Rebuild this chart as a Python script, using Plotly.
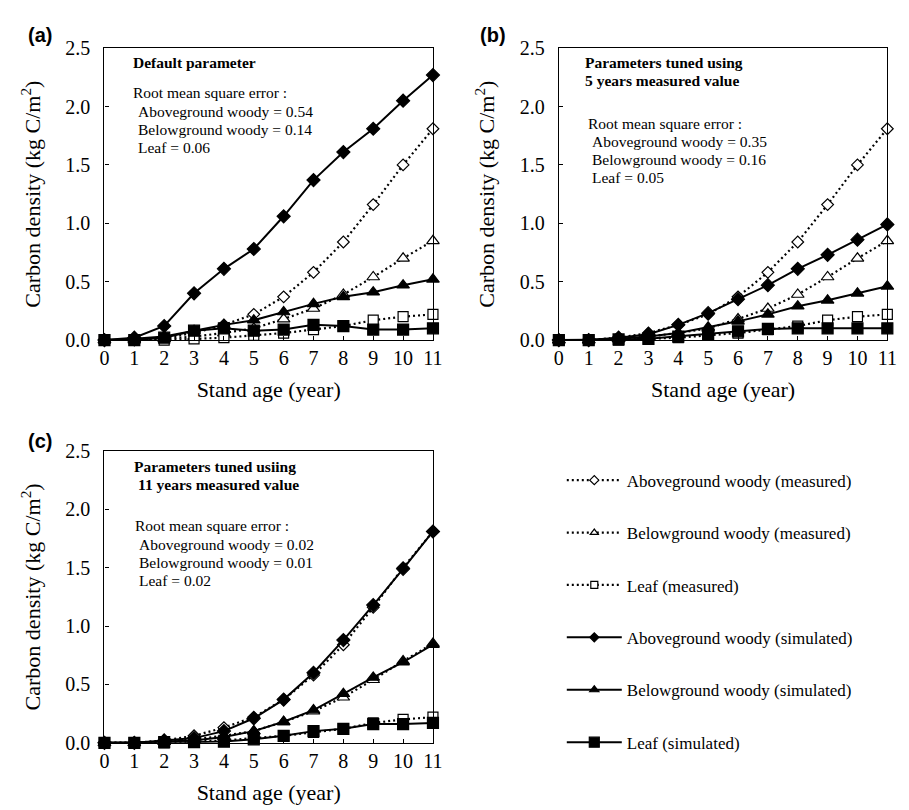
import plotly.graph_objects as go

# ---------------- data ----------------
ages = list(range(12))
tick_labels_x = [str(a) for a in ages]
tick_vals_y = [0.0, 0.5, 1.0, 1.5, 2.0, 2.5]

meas_agw = [0.0, 0.0, 0.02, 0.06, 0.13, 0.22, 0.37, 0.58, 0.84, 1.16, 1.50, 1.81]
meas_bgw = [0.0, 0.0, 0.01, 0.03, 0.06, 0.10, 0.18, 0.27, 0.39, 0.54, 0.70, 0.85]
meas_leaf = [0.0, 0.0, 0.0, 0.01, 0.02, 0.04, 0.06, 0.09, 0.12, 0.17, 0.20, 0.22]

sim_a_agw = [0.0, 0.02, 0.12, 0.40, 0.61, 0.78, 1.06, 1.37, 1.61, 1.81, 2.05, 2.27]
sim_a_bgw = [0.0, 0.01, 0.03, 0.08, 0.13, 0.17, 0.24, 0.31, 0.37, 0.41, 0.47, 0.52]
sim_a_leaf = [0.0, 0.0, 0.02, 0.08, 0.10, 0.08, 0.09, 0.13, 0.12, 0.09, 0.09, 0.10]

sim_b_agw = [0.0, 0.0, 0.02, 0.05, 0.13, 0.23, 0.35, 0.47, 0.61, 0.73, 0.86, 0.99]
sim_b_bgw = [0.0, 0.0, 0.01, 0.03, 0.06, 0.11, 0.16, 0.22, 0.29, 0.34, 0.40, 0.46]
sim_b_leaf = [0.0, 0.0, 0.005, 0.01, 0.03, 0.05, 0.075, 0.095, 0.10, 0.10, 0.10, 0.10]

sim_c_agw = [0.0, 0.0, 0.02, 0.04, 0.10, 0.21, 0.37, 0.60, 0.88, 1.18, 1.49, 1.81]
sim_c_bgw = [0.0, 0.0, 0.01, 0.02, 0.05, 0.10, 0.18, 0.28, 0.42, 0.56, 0.69, 0.84]
sim_c_leaf = [0.0, 0.0, 0.005, 0.005, 0.01, 0.03, 0.06, 0.10, 0.12, 0.16, 0.16, 0.17]

series_names = ["Aboveground woody (measured)", "Belowground woody (measured)", "Leaf (measured)",
                "Aboveground woody (simulated)", "Belowground woody (simulated)", "Leaf (simulated)"]

panel_headings = {
    "a": ["Default parameter"],
    "b": ["Parameters tuned using", "5 years measured value"],
    "c": ["Parameters tuned usiing", "11 years measured value"],
}
rmse_values = {
    "a": ["0.54", "0.14", "0.06"],
    "b": ["0.35", "0.16", "0.05"],
    "c": ["0.02", "0.01", "0.02"],
}
rmse_labels = ["Aboveground woody", "Belowground woody", "Leaf"]

W, H = 909, 810
SERIF = "Liberation Serif"
SANS = "Liberation Sans"

def px(x):
    return x / W

def py(y):
    return 1 - y / H

areas = {
    "a": (93, 427, 30, 330),
    "b": (555, 889, 30, 330),
    "c": (93, 427, 444, 744),
}
axis_ids = {"a": ("x", "y"), "b": ("x2", "y2"), "c": ("x3", "y3")}

styles = [
    dict(symbol="diamond", size=9, color="white", dash="2px,3px", filled=False),
    dict(symbol="triangle-up", size=11, color="white", dash="2px,3px", filled=False),
    dict(symbol="square", size=10, color="white", dash="2px,3px", filled=False),
    dict(symbol="diamond", size=10, color="black", dash="solid", filled=True),
    dict(symbol="triangle-up", size=11, color="black", dash="solid", filled=True),
    dict(symbol="square", size=11, color="black", dash="solid", filled=True),
]

panel_data = {
    "a": [meas_agw, meas_bgw, meas_leaf, sim_a_agw, sim_a_bgw, sim_a_leaf],
    "b": [meas_agw, meas_bgw, meas_leaf, sim_b_agw, sim_b_bgw, sim_b_leaf],
    "c": [meas_agw, meas_bgw, meas_leaf, sim_c_agw, sim_c_bgw, sim_c_leaf],
}

fig = go.Figure()

for p in ["a", "b", "c"]:
    xa, ya = axis_ids[p]
    for vals, st, name in zip(panel_data[p], styles, series_names):
        fig.add_trace(go.Scatter(
            x=ages, y=vals, mode="lines+markers", name=name,
            xaxis=xa, yaxis=ya, showlegend=False, cliponaxis=False,
            line=dict(color="black", width=2 if st["filled"] else 2.2, dash=st["dash"]),
            marker=dict(symbol=st["symbol"], size=st["size"], color=st["color"],
                        line=dict(color="black", width=1.2)),
        ))

legend_sizes = [7, 7, 7, 7, 8, 10]
for i, (st, name) in enumerate(zip(styles, series_names)):
    fig.add_trace(go.Scatter(
        x=[None], y=[None], mode="lines+markers", name=name, xaxis="x", yaxis="y",
        legendgroup=f"g{i}", showlegend=True,
        line=dict(color="black", width=2 if st["filled"] else 2.2,
                  dash="2px,3px" if not st["filled"] else "solid"),
        marker=dict(symbol=st["symbol"], size=legend_sizes[i], color=st["color"],
                    line=dict(color="black", width=1.2)),
    ))

axis_common = dict(
    showline=True, linecolor="black", linewidth=1.3, mirror=True,
    ticks="inside", ticklen=4, tickcolor="black", showgrid=False, zeroline=False,
    tickfont=dict(family=SERIF, size=20, color="black"),
)

layout = dict(
    width=W, height=H, margin=dict(l=0, r=0, t=0, b=0),
    paper_bgcolor="white", plot_bgcolor="white",
    font=dict(family=SERIF, color="black"),
    showlegend=True,
    legend=dict(
        x=px(558), y=py(456), xanchor="left", yanchor="top",
        font=dict(family=SERIF, size=17, color="black"),
        itemwidth=55, tracegroupgap=27.3, bgcolor="rgba(0,0,0,0)",
        itemclick=False, itemdoubleclick=False,
    ),
)

for p in ["a", "b", "c"]:
    l, r, t, b = areas[p]
    xa, ya = axis_ids[p]
    xkey = "xaxis" if xa == "x" else "xaxis" + xa[1:]
    ykey = "yaxis" if ya == "y" else "yaxis" + ya[1:]
    layout[xkey] = dict(
        axis_common, domain=[px(l), px(r)], anchor=ya, range=[0, 11],
        tickvals=ages, ticktext=tick_labels_x,
        title=dict(text="Stand age (year)", font=dict(family=SERIF, size=22, color="black"), standoff=13),
    )
    layout[ykey] = dict(
        axis_common, domain=[py(b), py(t)], anchor=xa, range=[0, 2.5],
        tickvals=tick_vals_y, tickformat=".1f", ticklabelstandoff=9,
        title=dict(text="Carbon density (kg C/m<sup>2</sup>)", font=dict(family=SERIF, size=22, color="black"), standoff=18),
    )

fig.update_layout(**layout)

annotations = []
for lab, (x, y) in {"(a)": (13, 16), "(b)": (473, 16), "(c)": (13, 434)}.items():
    annotations.append(dict(text=f"<b>{lab}</b>", x=px(x), y=py(y), xref="paper", yref="paper",
                            xanchor="left", yanchor="middle", showarrow=False,
                            font=dict(family=SANS, size=20, color="black")))

heading_pos = {
    "a": (120, [45], 120),
    "b": (580, [45, 63], 580),
    "c": (121, [460, 478], 125),
}
rmse_pos = {
    "a": (120, 125, [76, 94.7, 113.4, 132]),
    "b": (583, 587, [107, 125.5, 144, 162.5]),
    "c": (122, 126, [521, 540, 559, 577.5]),
}

def add_text(text, x, y, size, bold=False):
    annotations.append(dict(text=f"<b>{text}</b>" if bold else text, x=px(x), y=py(y),
                            xref="paper", yref="paper", xanchor="left", yanchor="middle",
                            align="left", showarrow=False,
                            font=dict(family=SERIF, size=size, color="black")))

for p in ["a", "b", "c"]:
    hx, hys, hx2 = heading_pos[p]
    for i, (line, yy) in enumerate(zip(panel_headings[p], hys)):
        add_text(line, hx if i == 0 else hx2, yy, 15.5, bold=True)
    rx, rx2, rys = rmse_pos[p]
    add_text("Root mean square error :", rx, rys[0], 15.5)
    for lab, val, yy in zip(rmse_labels, rmse_values[p], rys[1:]):
        add_text(f"{lab} = {val}", rx2, yy, 15.5)

fig.update_layout(annotations=annotations)

fig.write_html("out.html")
